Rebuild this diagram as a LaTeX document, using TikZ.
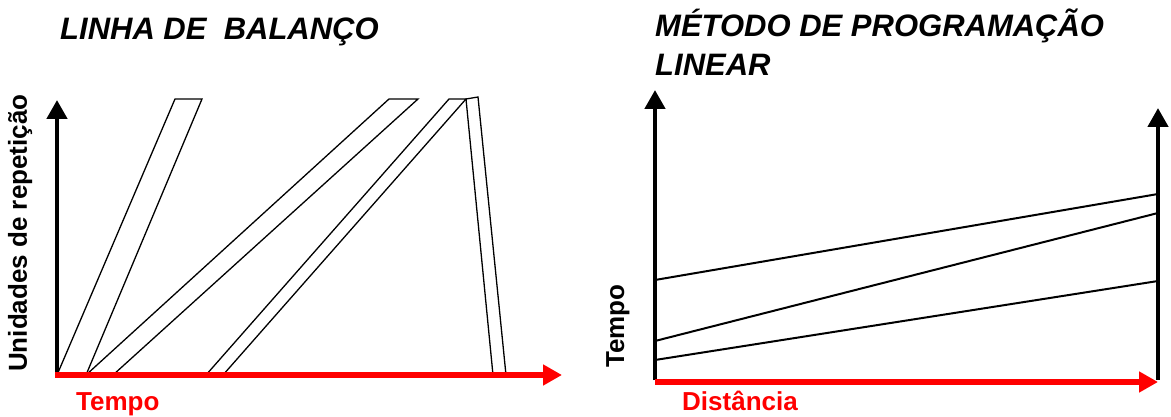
\documentclass[tikz,border=0pt]{standalone}
\usepackage{fontspec}
\setmainfont{Liberation Sans}
\usetikzlibrary{arrows.meta}
\definecolor{axisred}{RGB}{255,0,0}

\begin{document}
\begin{tikzpicture}[x=1pt,y=-1pt,
  axis/.style={line width=4.5pt,-{Triangle[length=19pt,width=20pt]}},
  redaxis/.style={axis,line width=6pt,draw=axisred,fill=axisred},
  bar/.style={draw,line width=1.3pt,line join=miter},
  run/.style={line width=2pt},
  title/.style={font=\fontsize{31}{39}\selectfont\bfseries\itshape,anchor=base west,inner sep=0pt},
  lbl/.style={font=\fontsize{26}{30}\selectfont\bfseries,anchor=base west,inner sep=0pt}
]
\useasboundingbox (0,0) rectangle (1171,417);

\coordinate (o1) at (57,375);
\coordinate (y1) at (57,100);
\coordinate (x1) at (562,375);
\draw[bar] (o1) -- (175,99) -- (202,99) -- (86,375) -- cycle;
\draw[bar] (86,375) -- (389,99) -- (418,99) -- (113,375) -- cycle;
\draw[bar] (206,375) -- (449,99) -- (466,99) -- (223,375) -- cycle;
\draw[bar] (466,99) -- (478,97) -- (506,375) -- (493,375) -- cycle;
\draw[axis] ([yshift=2pt]o1) -- (y1);
\draw[redaxis] ([xshift=-2pt]o1) -- (x1);

\node[title] (t1) at (60,40) {LINHA DE\ \ BALANÇO};
\node[lbl,text=axisred] (tempo1) at (76,410) {Tempo};
\node[lbl,rotate=90] (unid) at (27,372) {Unidades de repetição};

\coordinate (o2) at (655,382);
\coordinate (y2) at (655,90);
\coordinate (b2) at (1158,382);
\coordinate (y3) at (1158,108);
\draw[run] (655,280) -- (1158,194);
\draw[run] (655,341) -- (1158,213);
\draw[run] (655,360) -- (1158,281);
\draw[axis] ([yshift=2pt]o2) -- (y2);
\draw[axis] ([yshift=2pt]b2) -- (y3);
\draw[redaxis] (o2) -- (b2);

\node[title] (t2) at (655,37) {MÉTODO DE PROGRAMAÇÃO};
\node[title] (t3) at (655,76) {LINEAR};
\node[lbl,text=axisred] (dist) at (682,410) {Distância};
\node[lbl,rotate=90] (tempo2) at (624,368) {Tempo};
\end{tikzpicture}
\end{document}
